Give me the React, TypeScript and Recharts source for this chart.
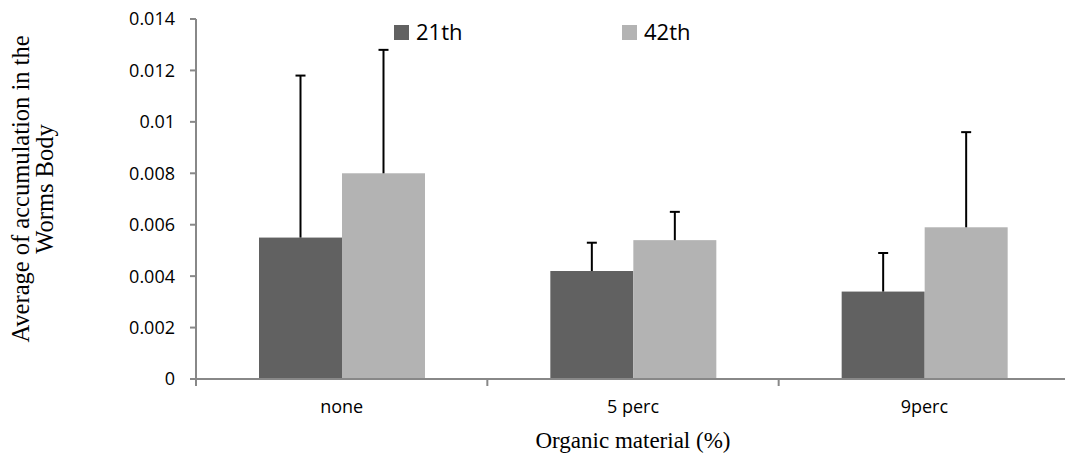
import React from 'react';
import { BarChart, Bar, XAxis, YAxis, Legend, Label } from 'recharts';

// ---- data ----
const categories = ['none', '5 perc', '9perc'];
const day21 = [0.0055, 0.0042, 0.0034];
const day42 = [0.008, 0.0054, 0.0059];
// upper error only (Excel "plus" bars)
const err21 = [0.0063, 0.0011, 0.0015];
const err42 = [0.0048, 0.0011, 0.0037];
const yTicks = [0, 0.002, 0.004, 0.006, 0.008, 0.01, 0.012, 0.014];

const seriesNames = ['21th', '42th'];
const colors = ['#616161', '#b3b3b3'];

const data = categories.map((name, i) => ({
  name,
  d21: day21[i],
  d42: day42[i],
  e21: err21[i],
  e42: err42[i],
}));

// layout
const CHART_W = 1075;
const CHART_H = 453;
const MARGIN = { top: 19, right: 5, left: 0, bottom: 0 };
const Y_W = 196;
const X_H = 74;
const PLOT_W = CHART_W - MARGIN.left - MARGIN.right - Y_W;
const AXIS_GRAY = '#888888';
const SANS = '"Open Sans", sans-serif';
const SERIF = '"Liberation Serif", "Times New Roman", serif';

// bar with a one-sided (upper) error whisker drawn on top
const barWithError = (errKey: string) => (props: any) => {
  const { x, y, width, height, fill, payload, value } = props;
  const v = Array.isArray(value) ? value[1] - value[0] : value;
  const perUnit = v ? height / v : 0;
  const errTop = y - payload[errKey] * perUnit;
  const cx = x + width / 2;
  return (
    <g>
      <rect x={x} y={y} width={width} height={height} fill={fill} />
      <line x1={cx} y1={y} x2={cx} y2={errTop} stroke="#000" strokeWidth={2} />
      <line x1={cx - 5} y1={errTop} x2={cx + 5} y2={errTop} stroke="#000" strokeWidth={2} />
    </g>
  );
};

// category label at center, tick marks at category boundaries
const XTick = (props: any) => {
  const { x, y, payload, index } = props;
  const band = PLOT_W / categories.length;
  const left = x - band / 2;
  return (
    <g>
      <line x1={left} y1={y} x2={left} y2={y + 7} stroke={AXIS_GRAY} strokeWidth={2} />
      {index === categories.length - 1 && (
        <line x1={x + band / 2} y1={y} x2={x + band / 2} y2={y + 7} stroke={AXIS_GRAY} strokeWidth={2} />
      )}
      <text x={x} y={y + 34} textAnchor="middle" fontFamily={SANS} fontSize={18} fill="#000">
        {payload.value}
      </text>
    </g>
  );
};

const LegendContent = () => (
  <div style={{ display: 'flex', fontFamily: SANS, fontSize: 22, lineHeight: '30px', color: '#000' }}>
    {seriesNames.map((s, i) => (
      <div key={s} style={{ display: 'flex', alignItems: 'center', width: 228 }}>
        <span
          style={{
            display: 'inline-block',
            width: 15,
            height: 15,
            background: colors[i],
            marginRight: 7,
            position: 'relative',
            top: 1,
          }}
        />
        <span>{s}</span>
      </div>
    ))}
  </div>
);

const YTitle = (props: any) => {
  const { viewBox } = props;
  const cy = viewBox.y + viewBox.height / 2 - 10;
  return (
    <g fontFamily={SERIF} fontSize={24.5} fill="#000" textAnchor="middle">
      <text x={29} y={cy} transform={`rotate(-90, 29, ${cy})`}>
        Average of accumulation in the
      </text>
      <text x={53} y={cy} transform={`rotate(-90, 53, ${cy})`}>
        Worms Body
      </text>
    </g>
  );
};

export default function App() {
  return (
    <div
      style={{
        position: 'absolute',
        left: 0,
        top: 0,
        width: 1065,
        height: 453,
        overflow: 'hidden',
        background: '#fff',
      }}
    >
      <BarChart width={CHART_W} height={CHART_H} data={data} margin={MARGIN} barSize={83} barGap={0}>
        <XAxis
          dataKey="name"
          height={X_H}
          tickSize={0}
          tickMargin={0}
          tickLine={false}
          axisLine={{ stroke: AXIS_GRAY, strokeWidth: 2 }}
          tick={<XTick />}
          interval={0}
        >
          <Label
            value="Organic material (%)"
            position="insideBottom"
            offset={5}
            style={{ fontFamily: SERIF, fontSize: 23, fill: '#000' }}
          />
        </XAxis>
        <YAxis
          width={Y_W}
          domain={[0, 0.014]}
          ticks={yTicks}
          tickFormatter={(v: number) => String(v)}
          tickSize={6}
          tickMargin={15}
          axisLine={{ stroke: AXIS_GRAY, strokeWidth: 2 }}
          tickLine={{ stroke: AXIS_GRAY, strokeWidth: 2 }}
          tick={{ fontFamily: SANS, fontSize: 18, fill: '#000' }}
          label={{ content: <YTitle /> }}
        />
        <Legend
          verticalAlign="middle"
          align="center"
          layout="horizontal"
          content={<LegendContent />}
          wrapperStyle={{ top: 16, left: 394, width: 'auto' }}
        />
        <Bar
          dataKey="d21"
          name={seriesNames[0]}
          fill={colors[0]}
          isAnimationActive={false}
          shape={barWithError('e21')}
        />
        <Bar
          dataKey="d42"
          name={seriesNames[1]}
          fill={colors[1]}
          isAnimationActive={false}
          shape={barWithError('e42')}
        />
      </BarChart>
    </div>
  );
}
